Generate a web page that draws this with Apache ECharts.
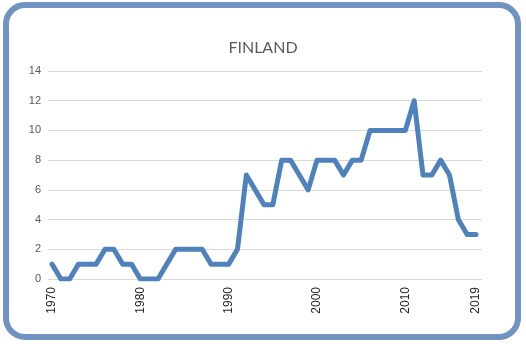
<!DOCTYPE html>
<html>
<head>
<meta charset="utf-8">
<script src="https://cdn.jsdelivr.net/npm/echarts@6/dist/echarts.min.js"></script>
<style>
  html, body { margin: 0; padding: 0; background: #ffffff; }
  #chart { position: absolute; left: 0; top: 0; width: 526px; height: 344px; }
  #frame { position: absolute; left: 3px; top: 2px; width: 506px; height: 326px;
           border: 6px solid #7093c2; border-radius: 22px; pointer-events: none; }
</style>
</head>
<body>
<div id="chart"></div>
<div id="frame"></div>
<script>
// Categories (years as shown on the chart; 49 points)
const years = ['1970','1971','1972','1973','1974','1975','1976','1977','1978','1979',
  '1980','1981','1982','1983','1984','1985','1986','1987','1988','1989',
  '1990','1991','1992','1993','1994','1995','1996','1997','1998','1999',
  '2000','2001','2002','2003','2004','2005','2006','2007','2008','2009',
  '2010','2011','2012','2013','2014','2015','2016','2017','2019'];
// Series values
const finland = [1,0,0,1,1,1,2,2,1,1,
  0,0,0,1,2,2,2,2,1,1,
  1,2,7,6,5,5,8,8,7,6,
  8,8,8,7,8,8,10,10,10,10,
  10,12,7,7,8,7,4,3,3];
// Tick labels
const xTickLabels = ['1970','1980','1990','2000','2010','2019'];
const yMin = 0, yMax = 14, yStep = 2;

const chart = echarts.init(document.getElementById('chart'));
chart.setOption({
  animation: false,
  backgroundColor: 'transparent',
  title: {
    text: 'FINLAND', left: 'center', top: 35,
    textStyle: { fontFamily: 'Lato', fontSize: 16, fontWeight: 'normal', color: '#595959' }
  },
  grid: [
    { left: 48, right: 44, top: 71, bottom: 65 },
    { left: 52, right: 50, top: 71, bottom: 65 }
  ],
  xAxis: [
    { gridIndex: 0, type: 'value', min: 0, max: 1, show: false },
    {
      gridIndex: 1, type: 'category', data: years, boundaryGap: false,
      axisLine: { show: false },
      axisTick: { show: false },
      axisLabel: {
        rotate: 90, margin: 8, fontFamily: 'Liberation Sans', fontSize: 12, color: '#262626',
        interval: (i, v) => xTickLabels.includes(v)
      },
      splitLine: { show: false }
    }
  ],
  yAxis: [
    {
      gridIndex: 0, type: 'value', min: yMin, max: yMax, interval: yStep,
      axisLine: { show: false }, axisTick: { show: false },
      axisLabel: { margin: 7, fontFamily: 'Liberation Sans', fontSize: 11, color: '#595959' },
      splitLine: { lineStyle: { color: '#d9d9d9', width: 1 } }
    },
    {
      gridIndex: 1, type: 'value', min: yMin, max: yMax, interval: yStep, show: false,
      splitLine: { show: false }
    }
  ],
  series: [{
    type: 'line', xAxisIndex: 1, yAxisIndex: 1, data: finland,
    symbol: 'none', lineStyle: { color: '#4f81bd', width: 5, join: 'round', cap: 'round' }
  }]
});
</script>
</body>
</html>
